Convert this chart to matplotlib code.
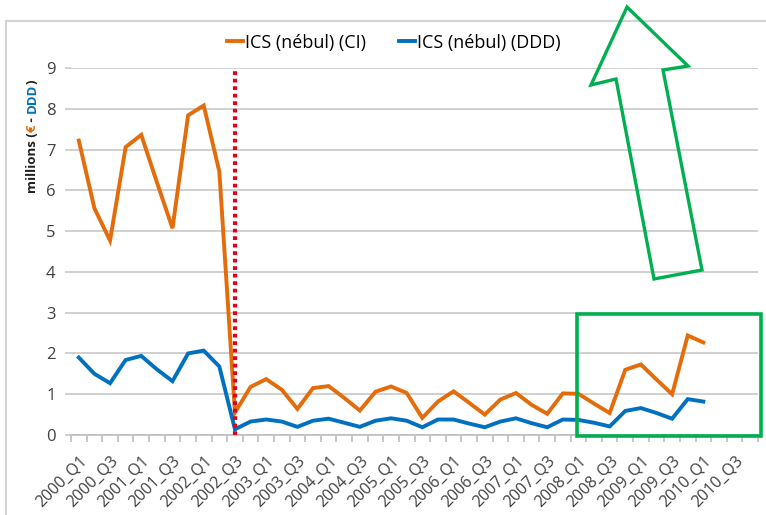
import numpy as np
import matplotlib
matplotlib.use("Agg")
import matplotlib.pyplot as plt
from matplotlib.patches import Rectangle, Polygon
from matplotlib.lines import Line2D

# ---------------- data ----------------
categories = [f"{y}_Q{q}" for y in range(2000, 2011) for q in range(1, 5)]
tick_labels = [c for c in categories if c.endswith("Q1") or c.endswith("Q3")]

ci_values = [7.22, 5.56, 4.77, 7.06, 7.36, 6.2, 5.07, 7.84, 8.08, 6.46,
             0.55, 1.18, 1.37, 1.11, 0.64, 1.15, 1.2, 0.91, 0.6, 1.06,
             1.19, 1.03, 0.42, 0.82, 1.07, 0.79, 0.5, 0.87, 1.03, 0.74,
             0.52, 1.02, 1.01, 0.77, 0.54, 1.6, 1.73, 1.36, 1.0, 2.44, 2.27]
ddd_values = [1.9, 1.5, 1.27, 1.84, 1.94, 1.61, 1.32, 2.0, 2.07, 1.68,
              0.14, 0.33, 0.38, 0.33, 0.2, 0.35, 0.4, 0.3, 0.2, 0.35,
              0.41, 0.35, 0.19, 0.38, 0.38, 0.28, 0.19, 0.33, 0.41, 0.29,
              0.19, 0.38, 0.37, 0.3, 0.21, 0.59, 0.66, 0.54, 0.4, 0.88, 0.82]
series_names = ["ICS (nébul) (CI)", "ICS (nébul) (DDD)"]
break_category = "2002_Q3"
highlight_start = "2008_Q1"
y_ticks = list(range(0, 10))

ORANGE = "#E46C0A"
BLUE = "#0070C0"
RED = "#E3001B"
GREEN = "#00B050"
GRID = "#C8C8C8"

plt.rcParams["font.family"] = ["Open Sans", "DejaVu Sans"]

W, H = 766, 515
fig = plt.figure(figsize=(W / 100, H / 100), dpi=100)
ax = fig.add_axes([71 / W, 1 - 435 / H, 687 / W, (435 - 68) / H])

x_all = np.arange(len(categories))
x_data = x_all[:len(ci_values)]

ax.plot(x_data, ci_values, color=ORANGE, lw=2.8, solid_joinstyle="miter",
        label=series_names[0], zorder=3)
ax.plot(x_data, ddd_values, color=BLUE, lw=2.8, solid_joinstyle="miter",
        label=series_names[1], zorder=3)

bx = categories.index(break_category)
ax.plot([bx, bx], [0, 9], color=RED, lw=3, linestyle=(0, (0.9, 0.9)), zorder=4)

ax.set_xlim(-0.5, len(categories) - 0.5)
ax.set_ylim(0, 9)
ax.set_yticks(y_ticks)
ax.yaxis.grid(True, color=GRID, lw=1.2)
ax.set_axisbelow(True)
for s in ["top", "right", "left"]:
    ax.spines[s].set_visible(False)
ax.spines["bottom"].set_color("#BDBDBD")
ax.spines["bottom"].set_linewidth(1.2)
ax.tick_params(axis="y", length=4, color=GRID, width=1.2, labelsize=12,
               labelcolor="#404040", pad=7)

label_pos = [categories.index(t) for t in tick_labels]
ax.set_xticks(label_pos)
ax.set_xticklabels(tick_labels, rotation=45, ha="right", rotation_mode="anchor",
                   fontsize=11.5, color="#404040")
ax.tick_params(axis="x", which="major", length=0, pad=13)
ax.set_xticks(np.arange(-0.5, len(categories), 1), minor=True)
ax.tick_params(axis="x", which="minor", length=5, color="#BDBDBD", width=1.2)

leg = ax.legend(loc="lower center", bbox_to_anchor=(0.47, 1.025),
                ncol=2, frameon=False, fontsize=13, handlelength=0.9,
                handletextpad=0.12, columnspacing=1.8, borderaxespad=0)

# highlight rectangle (data coordinates)
hx = categories.index(highlight_start)
rect = Rectangle((hx - 0.1, -0.03), len(categories) - 0.3 - (hx - 0.1), 3.0,
                 fill=False, edgecolor=GREEN, lw=2.6, clip_on=False, zorder=6)
ax.add_patch(rect)

def fp(x, y):
    return (x / W, 1 - y / H)

arrow_px = [(627, 7), (688, 66), (663, 70), (702, 270), (654, 279), (616, 79), (591, 85)]
arrow = Polygon([fp(*p) for p in arrow_px], closed=True, fill=False,
                edgecolor=GREEN, lw=2.4, transform=fig.transFigure, zorder=7)
fig.add_artist(arrow)

# outer chart border
fig.add_artist(Line2D([6 / W, 1.0], [1 - 21 / H, 1 - 21 / H], color="#D4D4D4",
                      lw=1.5, transform=fig.transFigure))
fig.add_artist(Line2D([6 / W, 6 / W], [0, 1 - 21 / H], color="#D4D4D4",
                      lw=1.5, transform=fig.transFigure))

# multi-coloured y label
pieces = [("millions (", "#202020"), ("€", ORANGE), (" - ", "#202020"),
          ("DDD", BLUE), (")", "#202020")]
fig.canvas.draw()
renderer = fig.canvas.get_renderer()
y0 = 1 - 193 / H
for txt, col in pieces:
    t = fig.text(32 / W, y0, txt, rotation=90, ha="center", va="bottom",
                 fontsize=9.5, fontweight="bold", color=col)
    bb = t.get_window_extent(renderer)
    y0 += bb.height / H

fig.savefig("out.png", dpi=100)
